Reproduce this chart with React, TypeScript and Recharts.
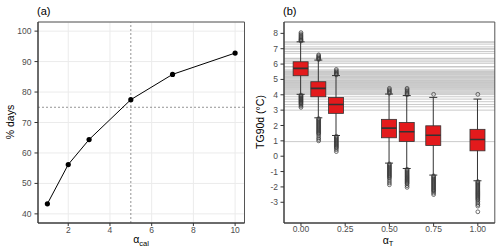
import React from 'react'
import {
  ComposedChart,
  LineChart,
  Line,
  Bar,
  Scatter,
  XAxis,
  YAxis,
  CartesianGrid,
  ReferenceLine,
  ReferenceArea,
} from 'recharts'

const FONT = '"Liberation Sans", Arial, Helvetica, sans-serif'
const TICK = { fill: '#4d4d4d', fontSize: 8.5, fontFamily: FONT }
const AXIS_LINE = { stroke: '#333', strokeWidth: 1 }
const BOX_RED = '#e31a1c'
const DARK = '#333333'

// panel (a): share of days vs calibration factor
const alphaCal = [1, 2, 3, 5, 7, 10]
const pctDays = [43.3, 56.2, 64.4, 77.5, 85.8, 92.8]
const pctTicks = [40, 50, 60, 70, 80, 90, 100]
const calTicks = [2, 4, 6, 8, 10]

// panel (b): TG90d distributions per alpha_T
const alphaT = [0, 0.1, 0.2, 0.5, 0.6, 0.75, 1]
const whiskerLow = [4.03, 2.5, 1.35, -0.45, -0.8, -1.23, -1.6]
const q1 = [5.24, 3.87, 2.79, 1.2, 0.96, 0.7, 0.35]
const median = [5.72, 4.42, 3.37, 1.83, 1.59, 1.36, 1.09]
const q3 = [6.15, 4.85, 3.83, 2.4, 2.2, 1.98, 1.75]
const whiskerHigh = [7.45, 6.26, 5.25, 4.05, 3.95, 3.83, 3.72]
const tgTicks = [-3, -2, -1, 0, 1, 2, 3, 4, 5, 6, 7, 8]
const alphaTicks = [0, 0.25, 0.5, 0.75, 1]

const out000 = [8.05, 7.96, 7.88, 7.8, 7.73, 7.66, 7.6, 7.55, 7.5,
  3.98, 3.93, 3.88, 3.83, 3.78, 3.73, 3.68, 3.63, 3.58, 3.53, 3.48, 3.43, 3.36, 3.27, 3.18]
const out010 = [6.6, 6.53, 6.46, 6.4, 6.35, 6.3,
  2.45, 2.39, 2.33, 2.27, 2.21, 2.15, 2.09, 2.03, 1.97, 1.91, 1.85, 1.79, 1.73, 1.67, 1.61, 1.55, 1.49, 1.43,
  1.32, 1.2, 1.1, 1.0]
const out020 = [5.65, 5.56, 5.48, 5.41, 5.35, 5.3,
  1.3, 1.24, 1.18, 1.12, 1.06, 1.0, 0.94, 0.88, 0.82, 0.76, 0.7, 0.64, 0.58, 0.52, 0.42, 0.3]
const out050 = [4.42, 4.33, 4.25, 4.17, 4.1,
  -0.5, -0.56, -0.62, -0.68, -0.74, -0.8, -0.86, -0.92, -0.98, -1.04, -1.1, -1.16, -1.22, -1.28, -1.34, -1.4,
  -1.5, -1.62, -1.74, -1.86]
const out060 = [4.42, 4.33, 4.24, 4.15, 4.07, 4.0,
  -0.85, -0.91, -0.97, -1.03, -1.09, -1.15, -1.21, -1.27, -1.33, -1.39, -1.45, -1.51, -1.57, -1.63, -1.69, -1.75,
  -1.81, -1.92, -2.03]
const out075 = [4.03,
  -1.28, -1.34, -1.4, -1.46, -1.52, -1.58, -1.64, -1.7, -1.76, -1.82, -1.88, -1.94, -2.0, -2.06, -2.12, -2.18,
  -2.24, -2.3, -2.4, -2.5]
const out100 = [4.03,
  -1.65, -1.71, -1.77, -1.83, -1.89, -1.95, -2.01, -2.07, -2.13, -2.19, -2.25, -2.31, -2.37, -2.43, -2.49, -2.55,
  -2.61, -2.67, -2.73, -2.79, -2.85, -2.95, -3.05, -3.15, -3.25, -3.62]
const outliers = [out000, out010, out020, out050, out060, out075, out100]

// observed values drawn as grey horizontal lines
const observed = [7.45, 7.42, 7.3, 7.12, 7.0, 6.97, 6.82, 6.7, 6.38, 6.35, 6.26, 6.15, 6.05, 5.84, 5.81, 5.62,
  5.55, 5.51, 5.46, 5.42, 5.37, 5.33, 5.28, 5.22, 5.18, 5.13, 5.08, 5.03, 4.97, 4.93, 4.88, 4.84, 4.8,
  4.74, 4.7, 4.66, 4.61, 4.56, 4.52, 4.47, 4.42, 4.36, 4.31, 4.25, 4.19, 4.13, 4.07, 4.01,
  3.87, 3.72, 3.55, 3.37, 3.22, 3.0, 0.95]

const lineData = alphaCal.map((a, i) => ({ a, pct: pctDays[i] }))
const boxData = alphaT.map((x, i) => ({
  x,
  lo: whiskerLow[i],
  q1: q1[i],
  med: median[i],
  q3: q3[i],
  hi: whiskerHigh[i],
}))
const outlierData = outliers.flatMap((vals, i) => vals.map(y => ({ x: alphaT[i], y })))

const B_DOMAIN_X = [-0.096, 1.096]
const B_DOMAIN_Y = [-4.35, 8.74]
const B_MARGIN = { top: 22, right: 5.2, bottom: 0, left: 0 }

function BoxShape(props: any) {
  const { x, y, width, height, payload } = props
  if (x == null || y == null) return null
  const top = Math.min(y, y + height)
  const bottom = Math.max(y, y + height)
  const span = payload.hi - payload.lo
  const py = (v: number) => bottom - ((v - payload.lo) / span) * (bottom - top)
  const cx = x + width / 2
  const cap = 4
  return (
    <g>
      <line x1={cx} x2={cx} y1={top} y2={bottom} stroke={DARK} strokeWidth={1} />
      <line x1={cx - cap} x2={cx + cap} y1={top} y2={top} stroke={DARK} strokeWidth={1} />
      <line x1={cx - cap} x2={cx + cap} y1={bottom} y2={bottom} stroke={DARK} strokeWidth={1} />
      <rect
        x={x}
        y={py(payload.q3)}
        width={width}
        height={py(payload.q1) - py(payload.q3)}
        fill={BOX_RED}
        stroke={DARK}
        strokeWidth={0.8}
      />
      <line x1={x} x2={x + width} y1={py(payload.med)} y2={py(payload.med)} stroke={DARK} strokeWidth={1.6} />
    </g>
  )
}

function OutlierDot(props: any) {
  const { cx, cy } = props
  if (cx == null || cy == null) return null
  return <circle cx={cx} cy={cy} r={1.9} fill="none" stroke={DARK} strokeWidth={0.7} />
}

function PanelA() {
  return (
    <LineChart width={250} height={252} data={lineData} margin={{ top: 22, right: 5.5, bottom: 0, left: 0 }}>
      <CartesianGrid stroke="#ebebeb" strokeWidth={1} />
      <XAxis
        dataKey="a"
        type="number"
        domain={[0.55, 10.45]}
        ticks={calTicks}
        allowDataOverflow
        height={29}
        tick={TICK}
        tickSize={3}
        tickMargin={1}
        tickLine={AXIS_LINE}
        axisLine={AXIS_LINE}
      />
      <YAxis
        type="number"
        domain={[37, 103]}
        ticks={pctTicks}
        allowDataOverflow
        width={38}
        tick={TICK}
        tickSize={3.5}
        tickMargin={3}
        tickLine={AXIS_LINE}
        axisLine={AXIS_LINE}
      />
      <ReferenceLine x={5} stroke="#666" strokeWidth={0.7} strokeDasharray="2 2" />
      <ReferenceLine y={75} stroke="#666" strokeWidth={0.7} strokeDasharray="2 2" />
      <ReferenceArea x1={0.55} x2={10.45} y1={37} y2={103} fill="none" stroke="#555" strokeWidth={1} ifOverflow="visible" />
      <Line
        dataKey="pct"
        stroke="#000"
        strokeWidth={1}
        dot={{ r: 2.6, fill: '#000', stroke: '#000', strokeWidth: 0 }}
        isAnimationActive={false}
      />
    </LineChart>
  )
}

// grey observation lines sit in their own chart underneath the boxes
function PanelBBackground() {
  return (
    <ComposedChart width={250} height={252} data={boxData} margin={B_MARGIN}>
      <XAxis dataKey="x" type="number" domain={B_DOMAIN_X} allowDataOverflow height={29} tick={false} tickLine={false} axisLine={false} />
      <YAxis type="number" domain={B_DOMAIN_Y} allowDataOverflow width={34} tick={false} tickLine={false} axisLine={false} />
      {observed.map((v, i) => (
        <ReferenceLine key={i} y={v} stroke="#c4c4c4" strokeWidth={0.9} />
      ))}
    </ComposedChart>
  )
}

function PanelB() {
  return (
    <ComposedChart width={250} height={252} data={boxData} margin={B_MARGIN}>
      <XAxis
        dataKey="x"
        type="number"
        domain={B_DOMAIN_X}
        ticks={alphaTicks}
        allowDataOverflow
        height={29}
        tick={TICK}
        tickFormatter={(v: number) => v.toFixed(2)}
        tickSize={3}
        tickMargin={0}
        tickLine={AXIS_LINE}
        axisLine={AXIS_LINE}
      />
      <YAxis
        type="number"
        domain={B_DOMAIN_Y}
        ticks={tgTicks}
        allowDataOverflow
        width={34}
        tick={TICK}
        tickSize={3.5}
        tickMargin={2.5}
        tickLine={AXIS_LINE}
        axisLine={AXIS_LINE}
      />
      <Bar
        dataKey={(d: any) => [d.lo, d.hi]}
        barSize={15}
        shape={<BoxShape />}
        isAnimationActive={false}
      />
      <Scatter data={outlierData} dataKey="y" shape={<OutlierDot />} isAnimationActive={false} />
      <ReferenceArea x1={B_DOMAIN_X[0]} x2={B_DOMAIN_X[1]} y1={B_DOMAIN_Y[0]} y2={B_DOMAIN_Y[1]} fill="none" stroke="#555" strokeWidth={1} ifOverflow="visible" />
    </ComposedChart>
  )
}

export default function App() {
  return (
    <div style={{ position: 'absolute', left: 0, top: 0, width: 500, height: 252, background: '#fff', fontFamily: FONT }}>
      <div style={{ position: 'absolute', left: 0, top: 0 }}>
        <PanelA />
      </div>
      <div style={{ position: 'absolute', left: 250, top: 0 }}>
        <PanelBBackground />
      </div>
      <div style={{ position: 'absolute', left: 250, top: 0 }}>
        <PanelB />
      </div>
      <svg width={500} height={252} style={{ position: 'absolute', left: 0, top: 0, pointerEvents: 'none' }}>
        <g fontFamily={FONT} fill="#000">
          <text x={37} y={15} fontSize={11}>(a)</text>
          <text x={283} y={15} fontSize={11}>(b)</text>
          <text x={14} y={122} fontSize={10.5} textAnchor="middle" transform="rotate(-90 14 122)">% days</text>
          <text x={264} y={122} fontSize={10.5} textAnchor="middle" transform="rotate(-90 264 122)">TG90d (°C)</text>
          <text x={141} y={243} fontSize={10.5} textAnchor="middle">
            α<tspan fontSize={7.5} dy={2.5}>cal</tspan>
          </text>
          <text x={388} y={243.5} fontSize={10.5} textAnchor="middle">
            α<tspan fontSize={7.5} dy={2.5}>T</tspan>
          </text>
        </g>
      </svg>
    </div>
  )
}
